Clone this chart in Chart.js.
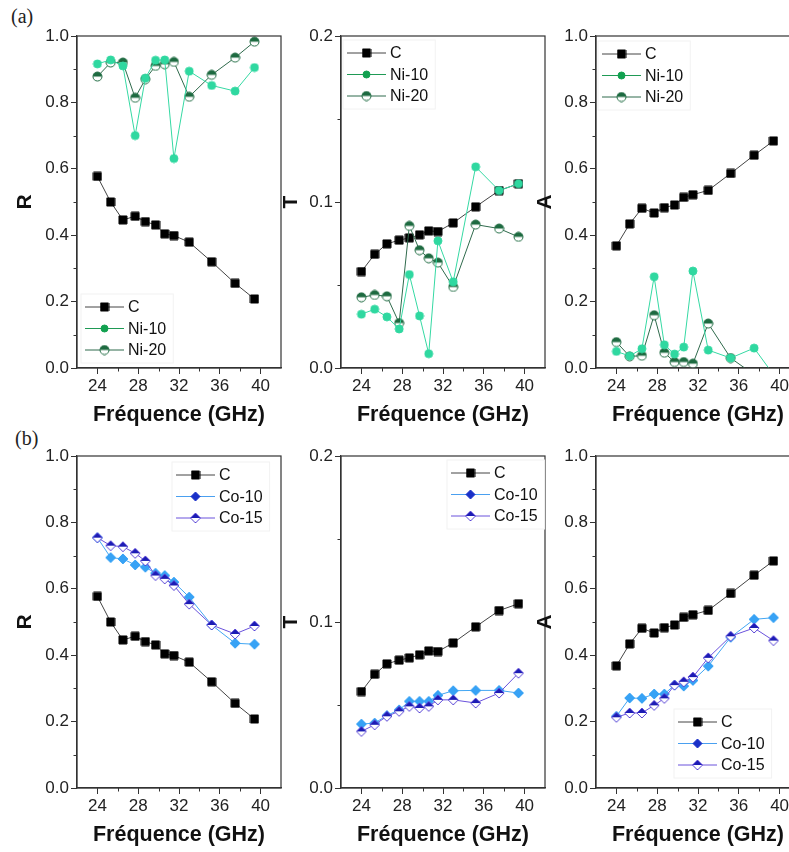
<!DOCTYPE html>
<html>
<head>
<meta charset="utf-8">
<script src="https://cdn.jsdelivr.net/npm/chart.js@4.4.1/dist/chart.umd.min.js"></script>
<style>
  html, body { margin: 0; padding: 0; background: #fff; width: 789px; height: 852px; overflow: hidden; }
  .panel { position: absolute; width: 284px; height: 412px; }
  .tag { position: absolute; font-family: "Liberation Serif", "Times New Roman", serif; font-size: 20px; color: #222; }
</style>
</head>
<body>
<div class="tag" style="left:11px;top:5px">(a)</div>
<div class="tag" style="left:15px;top:427px">(b)</div>

<div class="panel" style="left:7px;top:16px"><canvas id="rNi"></canvas></div>
<div class="panel" style="left:271px;top:16px"><canvas id="tNi"></canvas></div>
<div class="panel" style="left:526px;top:16px"><canvas id="aNi"></canvas></div>
<div class="panel" style="left:7px;top:436px"><canvas id="rCo"></canvas></div>
<div class="panel" style="left:271px;top:436px"><canvas id="tCo"></canvas></div>
<div class="panel" style="left:526px;top:436px"><canvas id="aCo"></canvas></div>

<script>
'use strict';

// frequencies (GHz)
var freq = [24, 25.3, 26.5, 27.7, 28.7, 29.7, 30.6, 31.5, 33.0, 35.2, 37.5, 39.4];

var xTicks = [24, 28, 32, 36, 40];
var xMinor = [26, 30, 34, 38];
var ticksUnit = [0, 0.2, 0.4, 0.6, 0.8, 1.0];
var minorUnit = [0.1, 0.3, 0.5, 0.7, 0.9];
var ticksT = [0, 0.1, 0.2];
var minorT = [0.05, 0.15];

// reflection
var R_C    = [0.577, 0.500, 0.446, 0.457, 0.441, 0.431, 0.404, 0.399, 0.379, 0.320, 0.255, 0.208];
var R_Ni10 = [0.916, 0.928, 0.910, 0.700, 0.873, 0.927, 0.928, 0.631, 0.894, 0.851, 0.834, 0.905];
var R_Ni20 = [0.878, 0.920, 0.920, 0.814, 0.870, 0.910, 0.915, 0.922, 0.817, 0.883, 0.935, 0.983];
var R_Co10 = [0.754, 0.694, 0.690, 0.672, 0.665, 0.647, 0.640, 0.620, 0.575, 0.491, 0.436, 0.433];
var R_Co15 = [0.754, 0.730, 0.727, 0.707, 0.684, 0.640, 0.630, 0.610, 0.554, 0.491, 0.464, 0.488];

// transmission
var T_C    = [0.0581, 0.0685, 0.0748, 0.0770, 0.0784, 0.0802, 0.0826, 0.0822, 0.0874, 0.0971, 0.1069, 0.1110];
var T_Ni10 = [0.0324, 0.0354, 0.0308, 0.0235, 0.0563, 0.0314, 0.0086, 0.0766, 0.0519, 0.1212, 0.1069, 0.1110];
var T_Ni20 = [0.0426, 0.0440, 0.0432, 0.0271, 0.0856, 0.0710, 0.0661, 0.0635, 0.0488, 0.0864, 0.0840, 0.0790];
var T_Co10 = [0.0385, 0.0391, 0.0437, 0.0471, 0.0522, 0.0522, 0.0522, 0.0558, 0.0586, 0.0588, 0.0588, 0.0572];
var T_Co15 = [0.0341, 0.0381, 0.0432, 0.0462, 0.0492, 0.0482, 0.0492, 0.0531, 0.0531, 0.0512, 0.0572, 0.0692];

// absorption
var A_C    = [0.368, 0.434, 0.481, 0.467, 0.483, 0.491, 0.514, 0.522, 0.535, 0.586, 0.641, 0.684];
var A_Ni10 = [0.050, 0.036, 0.058, 0.275, 0.070, 0.042, 0.063, 0.292, 0.054, 0.030, 0.060, -0.020];
var A_Ni20 = [0.078, 0.035, 0.037, 0.159, 0.046, 0.018, 0.018, 0.013, 0.134, 0.030, -0.020, -0.060];
var A_Co10 = [0.216, 0.271, 0.270, 0.283, 0.283, 0.310, 0.307, 0.324, 0.367, 0.454, 0.508, 0.513];
var A_Co15 = [0.213, 0.226, 0.226, 0.249, 0.270, 0.310, 0.320, 0.334, 0.392, 0.457, 0.482, 0.444];

var FONT = '"Liberation Sans", Arial, sans-serif';
var axisColor = '#333';

// little canvases used as point styles (half filled ones can't be done with the built-ins)
function marker(shape, size, fill, stroke, half) {
    var c = document.createElement('canvas');
    c.width = size + 2; c.height = size + 2;
    var g = c.getContext('2d');
    var m = (size + 2) / 2, r = size / 2;
    function path() {
        g.beginPath();
        if (shape === 'square') g.rect(m - r, m - r, size, size);
        else if (shape === 'circle') g.arc(m, m, r, 0, Math.PI * 2);
        else { g.moveTo(m, m - r); g.lineTo(m + r, m); g.lineTo(m, m + r); g.lineTo(m - r, m); g.closePath(); }
    }
    path();
    g.fillStyle = half ? '#fff' : fill;
    g.fill();
    if (half) {
        g.save(); path(); g.clip();
        g.fillStyle = fill; g.fillRect(0, 0, c.width, m);
        g.restore();
    }
    path();
    g.strokeStyle = stroke; g.lineWidth = 1; g.stroke();
    return c;
}

var mkC    = marker('square', 8, '#000', '#000', false);
var mkNi10 = marker('circle', 8, '#2fd8a0', '#2fd8a0', false);
var mkNi20 = marker('circle', 9, '#1d6a40', '#1d6a40', true);
var mkCo10 = marker('diamond', 10, '#37a2f5', '#37a2f5', false);
var mkCo15 = marker('diamond', 10, '#1c1cb4', '#5a46d6', true);
// the legend uses darker symbols than the plotted ones
var lgNi10 = marker('circle', 7, '#12a150', '#12a150', false);
var lgCo10 = marker('diamond', 9, '#1a30c8', '#1a30c8', false);

function pts(vals) {
    return freq.map(function (f, i) { return {x: f, y: vals[i]}; });
}

function series(label, vals, color, mk, order, lgMk, lgColor) {
    return {
        label: label,
        data: pts(vals),
        borderColor: color,
        backgroundColor: color,
        borderWidth: 1,
        tension: 0,
        pointStyle: mk,
        pointRadius: 4,
        pointHoverRadius: 4,
        order: order,
        lgMk: lgMk || mk,
        lgColor: lgColor || color
    };
}

// box, minor ticks and the line+marker legend
var decor = {
    id: 'decor',
    afterDraw: function (chart, args, opts) {
        var ctx = chart.ctx, a = chart.chartArea;
        var xs = chart.scales.x, ys = chart.scales.y;
        ctx.save();
        ctx.strokeStyle = axisColor;
        ctx.lineWidth = 1.2;
        ctx.strokeRect(a.left, a.top, a.right - a.left, a.bottom - a.top);

        ctx.lineWidth = 1;
        ctx.beginPath();
        xMinor.forEach(function (v) {
            var px = Math.round(xs.getPixelForValue(v)) + 0.5;
            ctx.moveTo(px, a.bottom); ctx.lineTo(px, a.bottom + 3.5);
        });
        opts.yMinor.forEach(function (v) {
            var py = Math.round(ys.getPixelForValue(v)) + 0.5;
            ctx.moveTo(a.left, py); ctx.lineTo(a.left - 3.5, py);
        });
        ctx.stroke();

        // legend
        var lg = opts.legend, sets = chart.data.datasets;
        var x0 = a.left + lg.x, y0 = a.top + lg.y, row = 21.5;
        ctx.font = '16px ' + FONT;
        var wMax = 0;
        sets.forEach(function (d) { wMax = Math.max(wMax, ctx.measureText(d.label).width); });
        ctx.fillStyle = '#fff';
        ctx.strokeStyle = '#f2f2f2';
        ctx.fillRect(x0 - 4, y0 - 13, 46 + wMax + 8, row * (sets.length - 1) + 26);
        ctx.strokeRect(x0 - 4, y0 - 13, 46 + wMax + 8, row * (sets.length - 1) + 26);
        sets.forEach(function (d, i) {
            var y = y0 + i * row;
            ctx.strokeStyle = d.lgColor;
            ctx.lineWidth = 1;
            ctx.beginPath();
            ctx.moveTo(x0, y); ctx.lineTo(x0 + 39, y);
            ctx.stroke();
            var mk = d.lgMk;
            ctx.drawImage(mk, x0 + 19.5 - mk.width / 2, y - mk.height / 2);
            ctx.fillStyle = '#111';
            ctx.textBaseline = 'middle';
            ctx.fillText(d.label, x0 + 43, y + 1);
        });
        ctx.restore();
    }
};

function makePanel(id, datasets, yMax, yTicks, yMinor, yTitle, titlePad, legend) {
    var ctx = document.getElementById(id).getContext('2d');
    return new Chart(ctx, {
        type: 'line',
        data: {datasets: datasets},
        plugins: [decor],
        options: {
            responsive: true,
            maintainAspectRatio: false,
            animation: false,
            events: [],
            layout: {padding: {top: 20, right: 10, left: 0, bottom: 0}},
            plugins: {
                legend: {display: false},
                tooltip: {enabled: false},
                decor: {yMinor: yMinor, legend: legend}
            },
            scales: {
                x: {
                    type: 'linear',
                    min: 22,
                    max: 42,
                    afterBuildTicks: function (s) { s.ticks = xTicks.map(function (v) { return {value: v}; }); },
                    afterFit: function (s) { s.height = 60; },
                    grid: {drawOnChartArea: false, tickLength: 6, tickColor: axisColor},
                    border: {color: axisColor, width: 1.2},
                    ticks: {
                        padding: 2,
                        maxRotation: 0,
                        color: '#222',
                        font: {family: FONT, size: 17},
                        callback: function (v) { return String(v); }
                    },
                    title: {
                        display: true,
                        text: 'Fréquence (GHz)',
                        color: '#111',
                        font: {family: FONT, size: 21.5, weight: 'bold', lineHeight: 1.2},
                        padding: {top: 0, bottom: 0}
                    }
                },
                y: {
                    min: 0,
                    max: yMax,
                    afterBuildTicks: function (s) { s.ticks = yTicks.map(function (v) { return {value: v}; }); },
                    afterFit: function (s) { s.width = 70; },
                    grid: {drawOnChartArea: false, tickLength: 6, tickColor: axisColor},
                    border: {color: axisColor, width: 1.2},
                    ticks: {
                        padding: 2,
                        color: '#222',
                        font: {family: FONT, size: 17},
                        callback: function (v) { return Number(v).toFixed(1); }
                    },
                    title: {
                        display: true,
                        text: yTitle,
                        color: '#111',
                        font: {family: FONT, size: 21, weight: 'bold', lineHeight: 1.2},
                        padding: {top: titlePad, bottom: 0}
                    }
                }
            }
        }
    });
}

function niSets(c, n10, n20) {
    return [
        series('C', c, '#444', mkC, 2),
        series('Ni-10', n10, '#35d9a3', mkNi10, 0, lgNi10, '#1f9a55'),
        series('Ni-20', n20, '#2f6a4c', mkNi20, 1)
    ];
}

function coSets(c, c10, c15) {
    return [
        series('C', c, '#444', mkC, 2),
        series('Co-10', c10, '#42a6f3', mkCo10, 1, lgCo10, '#4aa0f0'),
        series('Co-15', c15, '#6a52dc', mkCo15, 0)
    ];
}

makePanel('rNi', niSets(R_C, R_Ni10, R_Ni20), 1, ticksUnit, minorUnit, 'R', 5.4, {x: 8, y: 271});
makePanel('tNi', niSets(T_C, T_Ni10, T_Ni20), 0.2, ticksT, minorT, 'T', 8.1, {x: 6, y: 17});
makePanel('aNi', niSets(A_C, A_Ni10, A_Ni20), 1, ticksUnit, minorUnit, 'A', 6.4, {x: 6, y: 18});
makePanel('rCo', coSets(R_C, R_Co10, R_Co15), 1, ticksUnit, minorUnit, 'R', 5.4, {x: 99, y: 19});
makePanel('tCo', coSets(T_C, T_Co10, T_Co15), 0.2, ticksT, minorT, 'T', 8.1, {x: 110, y: 17});
makePanel('aCo', coSets(A_C, A_Co10, A_Co15), 1, ticksUnit, minorUnit, 'A', 6.4, {x: 82, y: 266});
</script>
</body>
</html>
